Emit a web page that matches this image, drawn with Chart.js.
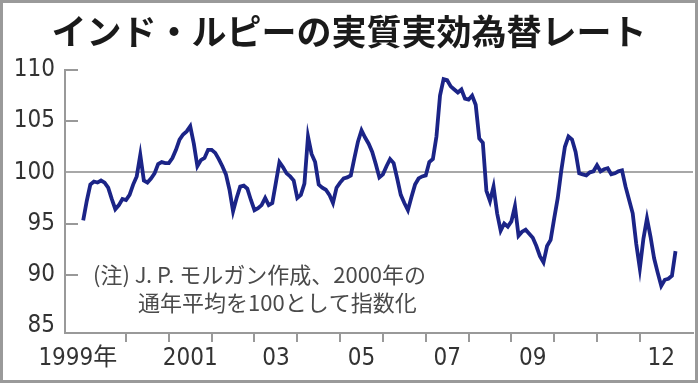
<!DOCTYPE html>
<html>
<head>
<meta charset="utf-8">
<script src="https://cdn.jsdelivr.net/npm/chart.js@4.4.0/dist/chart.umd.min.js"></script>
<style>
  html, body { margin: 0; padding: 0; background: #fff; }
  #wrap { width: 698px; height: 383px; }
</style>
</head>
<body>
<div id="wrap"><canvas id="rupeeChart"></canvas></div>
<script>
// Datos del gráfico
const chartTitle = 'インド・ルピーの実質実効為替レート';
const noteLines = ['(注) J. P. モルガン作成、2000年の', '通年平均を100として指数化'];
const xLabels = ['1999年', '2001', '03', '05', '07', '09', '12'];
const xLabelYears = [1999, 2001, 2003, 2005, 2007, 2009, 2012];
const yTickValues = [85, 90, 95, 100, 105, 110];
// índice mensual, enero 1999 en adelante
const reer = [
  95.3, 97.2, 98.8, 99.1, 99.0, 99.2, 99.0, 98.5, 97.4, 96.4, 96.8, 97.4,
  97.3, 97.8, 98.8, 99.6, 101.7, 99.2, 99.0, 99.4, 99.9, 100.8, 101.0, 100.9,
  100.9, 101.4, 102.2, 103.2, 103.7, 104.0, 104.5, 102.8, 100.6, 101.2, 101.4, 102.2,
  102.2, 101.9, 101.3, 100.6, 99.8, 98.3, 96.2, 97.5, 98.6, 98.7, 98.4, 97.3,
  96.3, 96.5, 96.8, 97.5, 96.8, 97.0, 99.0, 101.0, 100.5, 99.9, 99.6, 99.2,
  97.5, 97.8, 98.9, 103.5, 101.8, 101.0, 98.8, 98.5, 98.3, 97.8, 97.0, 98.5,
  99.0, 99.4, 99.5, 99.7, 101.4, 103.0, 104.1, 103.4, 102.8, 102.0, 100.8, 99.5,
  99.8, 100.6, 101.3, 100.9, 99.4, 97.8, 97.0, 96.3, 97.6, 98.8, 99.4, 99.6,
  99.7, 101.0, 101.3, 103.5, 107.5, 109.1, 109.0, 108.4, 108.1, 107.8, 108.1, 107.2,
  107.1, 107.5, 106.6, 103.3, 102.9, 98.2, 97.2, 98.6, 96.0, 94.3, 95.0, 94.7,
  95.2, 96.7, 93.8, 94.2, 94.4, 94.0, 93.6, 92.8, 91.8, 91.2, 92.8, 93.4,
  95.5, 97.5, 100.2, 102.5, 103.5, 103.2, 102.0, 99.9, 99.8, 99.7, 100.0, 100.1,
  100.7, 100.1, 100.3, 100.4, 99.8, 99.9, 100.1, 100.2, 98.6, 97.3, 96.0, 93.0,
  90.6, 93.5, 95.5, 93.7, 91.6, 90.2, 88.9, 89.5, 89.6, 89.9, 92.3
];

const startYear = 1999;
const tickFont = { family: "'Liberation Sans Narrow', 'DejaVu Sans Condensed', 'Noto Sans CJK JP', sans-serif", size: 24 };

// posiciones de las etiquetas (mitad de año) y marcas (inicio de año)
const labelTicks = xLabelYears.map((y, i) => (y - startYear) * 12 + (i === 0 ? -1.5 : 6));
const yearStarts = [];
for (let y = 2000; y <= 2012; y++) yearStarts.push((y - startYear) * 12);

const points = reer.map((v, i) => ({ x: i, y: v }));

// Dibuja marco, título, nota y las marcas interiores del eje Y
const decorPlugin = {
  id: 'decor',
  beforeDraw(chart) {
    const c = chart.ctx;
    c.save();
    c.fillStyle = '#fff';
    c.fillRect(0, 0, chart.width, chart.height);
    c.restore();
  },
  afterDraw(chart) {
    const c = chart.ctx;
    const area = chart.chartArea;
    const ys = chart.scales.y;
    c.save();
    // marcas cortas hacia dentro
    c.strokeStyle = '#999';
    c.lineWidth = 2;
    yTickValues.forEach(v => {
      if (v === 100 || v === 85) return;
      const py = Math.round(ys.getPixelForValue(v));
      c.beginPath();
      c.moveTo(area.left, py);
      c.lineTo(area.left + 13, py);
      c.stroke();
    });
    // título
    c.fillStyle = '#1a1a1a';
    c.font = "bold 35px 'Noto Sans CJK JP', sans-serif";
    c.textAlign = 'center';
    c.textBaseline = 'middle';
    c.fillText(chartTitle, chart.width / 2, 32);
    // nota
    c.fillStyle = '#4a4a4a';
    c.font = "22px 'Noto Sans CJK JP', sans-serif";
    c.textAlign = 'left';
    c.fillText(noteLines[0], 93, 275);
    c.fillText(noteLines[1], 138, 303);
    // marco
    c.strokeStyle = '#9a9a9a';
    c.lineWidth = 3;
    c.strokeRect(1.5, 1.5, chart.width - 3, chart.height - 3);
    c.restore();
  }
};

const ctx = document.getElementById('rupeeChart').getContext('2d');
const rupeeChart = new Chart(ctx, {
  type: 'line',
  data: {
    datasets: [{
      data: points,
      borderColor: '#1b2487',
      borderWidth: 3.8,
      pointRadius: 0,
      tension: 0,
      fill: false
    }]
  },
  options: {
    responsive: true,
    maintainAspectRatio: false,
    animation: false,
    layout: { padding: { top: 70, right: 5, left: 0, bottom: 0 } },
    plugins: {
      legend: { display: false },
      title: { display: false },
      tooltip: { enabled: false }
    },
    scales: {
      x: {
        type: 'linear',
        min: -5.1,
        max: 170.9,
        afterBuildTicks: s => {
          s.ticks = yearStarts.concat(labelTicks).sort((a, b) => a - b).map(v => ({ value: v }));
        },
        afterFit: s => { s.height = 50; },
        ticks: {
          autoSkip: false,
          maxRotation: 0,
          padding: 2,
          color: '#333',
          font: tickFont,
          callback: v => {
            const i = labelTicks.indexOf(v);
            return i >= 0 ? xLabels[i] : '';
          }
        },
        grid: {
          drawOnChartArea: false,
          drawTicks: true,
          tickLength: 9,
          lineWidth: 2,
          color: c => (c.tick && labelTicks.includes(c.tick.value)) ? 'rgba(0,0,0,0)' : '#999'
        },
        border: { display: true, color: '#999', width: 2 }
      },
      y: {
        min: 84.3,
        max: 110,
        afterBuildTicks: s => { s.ticks = yTickValues.map(v => ({ value: v })); },
        afterFit: s => { s.width = 65; },
        ticks: {
          padding: 10,
          color: '#333',
          font: tickFont,
          callback: v => String(v)
        },
        grid: {
          drawTicks: false,
          lineWidth: 2,
          color: c => (c.tick && c.tick.value === 100) ? '#a8a8a8' : 'rgba(0,0,0,0)'
        },
        border: { display: true, color: '#999', width: 2 }
      }
    }
  },
  plugins: [decorPlugin]
});
</script>
</body>
</html>
